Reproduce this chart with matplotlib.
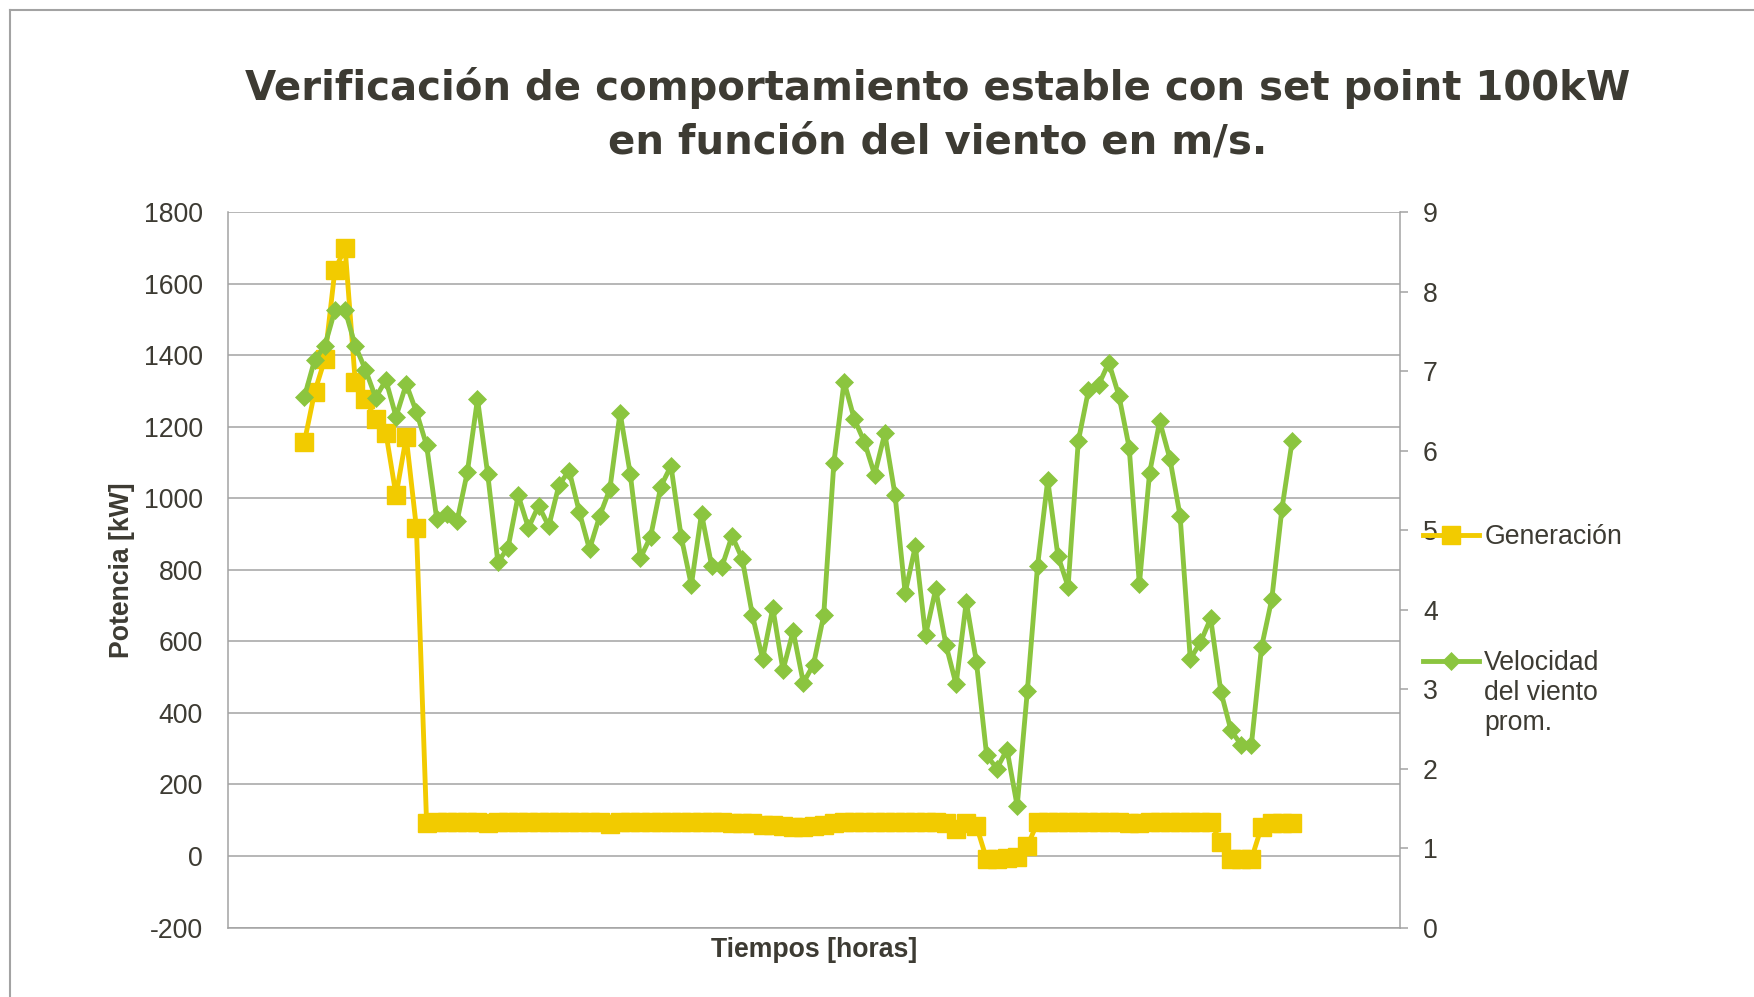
import numpy as np
import matplotlib
matplotlib.use("Agg")
import matplotlib.pyplot as plt
from matplotlib.lines import Line2D
from matplotlib.legend_handler import HandlerLine2D

plt.rcParams['font.family'] = ['Liberation Sans', 'DejaVu Sans']
plt.rcParams['axes.unicode_minus'] = False

TEXT = '#3d3b33'
GRID = '#a3a3a3'
YELLOW = '#f2cb00'
GREEN = '#8bc53f'
FS = 19.2

titulo = ["Verificación de comportamiento estable con set point 100kW",
          "en función del viento en m/s."]
nombres = ["Generación", "Velocidad\ndel viento\nprom."]
eje_y_izq = "Potencia [kW]"
eje_x = "Tiempos [horas]"

# potencia generada [kW], una muestra por categoria
generacion_kw = [1158, 1297, 1389, 1640, 1700, 1325, 1279, 1221, 1184, 1009,
                 1172, 918, 93, 94, 94, 95, 94, 94, 93, 94,
                 94, 94, 95, 94, 94, 94, 95, 95, 94, 94,
                 90, 94, 94, 95, 94, 94, 94, 95, 95, 94,
                 94, 94, 93, 93, 92, 87, 86, 83, 82, 81,
                 85, 88, 93, 94, 94, 94, 95, 94, 94, 94,
                 94, 94, 94, 93, 75, 93, 84, -9, -8, -6,
                 -3, 28, 94, 94, 94, 94, 94, 95, 94, 94,
                 94, 93, 93, 94, 94, 95, 94, 94, 94, 94,
                 39, -7, -8, -9, 82, 93, 93, 93]

# velocidad del viento promedio [m/s]
viento_ms = [6.68, 7.14, 7.32, 7.77, 7.77, 7.32, 7.02, 6.67, 6.89, 6.43,
             6.84, 6.49, 6.07, 5.14, 5.20, 5.12, 5.73, 6.65, 5.71, 4.60,
             4.78, 5.44, 5.03, 5.31, 5.05, 5.57, 5.75, 5.23, 4.76, 5.18,
             5.52, 6.48, 5.71, 4.65, 4.92, 5.55, 5.81, 4.92, 4.31, 5.21,
             4.55, 4.54, 4.93, 4.64, 3.93, 3.38, 4.02, 3.24, 3.73, 3.08,
             3.31, 3.93, 5.85, 6.87, 6.40, 6.11, 5.70, 6.22, 5.45, 4.21,
             4.80, 3.68, 4.26, 3.56, 3.06, 4.10, 3.34, 2.17, 2.00, 2.24,
             1.53, 2.98, 4.55, 5.63, 4.68, 4.29, 6.12, 6.76, 6.83, 7.11,
             6.69, 6.04, 4.32, 5.72, 6.37, 5.90, 5.18, 3.38, 3.59, 3.89,
             2.97, 2.48, 2.30, 2.30, 3.53, 4.13, 5.27, 6.12]

x = np.arange(len(generacion_kw))


class FirstLineHandler(HandlerLine2D):
    # Excel puts the key next to the first line of a wrapped label
    def __init__(self, shift, **kw):
        super().__init__(**kw)
        self.shift = shift

    def create_artists(self, legend, orig_handle, xdescent, ydescent,
                       width, height, fontsize, trans):
        arts = super().create_artists(legend, orig_handle, xdescent, ydescent,
                                      width, height, fontsize, trans)
        for a in arts:
            a.set_ydata(np.asarray(a.get_ydata(), dtype=float) + self.shift)
        return arts


fig = plt.figure(figsize=(17.54, 9.97), dpi=100)
ax = fig.add_axes([0.1300, 0.0697, 0.6682, 0.7172])

l1, = ax.plot(x, generacion_kw, color=YELLOW, lw=3.5, marker='s', ms=13,
              mec=YELLOW, mew=1)
ax2 = ax.twinx()
l2, = ax2.plot(x, viento_ms, color=GREEN, lw=3.5, marker='D', ms=9.5,
               mec=GREEN, mew=0.5)

ax.set_ylim(-200, 1800)
ax.set_yticks(range(-200, 1801, 200))
ax2.set_ylim(0, 9)
ax2.set_yticks(range(0, 10))
ax.set_xlim(-7.5, 107.6)
ax.set_xticks([])

ax.grid(axis='y', color=GRID, lw=1.1)
ax.set_axisbelow(True)
for s in ['top', 'right']:
    ax.spines[s].set_visible(False)
for s in ['top', 'left', 'bottom']:
    ax2.spines[s].set_visible(False)
for s in ['left', 'bottom']:
    ax.spines[s].set_color(GRID)
    ax.spines[s].set_linewidth(1.1)
ax2.spines['right'].set_color(GRID)
ax2.spines['right'].set_linewidth(1.1)

ax.tick_params(axis='y', length=0, pad=18, labelsize=FS, labelcolor=TEXT)
ax2.tick_params(axis='y', length=5.5, width=1.1, color=GRID, pad=11,
                labelsize=FS, labelcolor=TEXT)

ax.set_ylabel(eje_y_izq, fontsize=FS, fontweight='bold', color=TEXT)
ax.yaxis.set_label_coords(-0.079, 0.5)
ax.set_xlabel(eje_x, fontsize=FS, fontweight='bold', color=TEXT)
ax.xaxis.set_label_coords(0.5, -0.0133)

# titulo en dos lineas, ancho como el original
fig.text(0.5348, 0.8998, titulo[0], ha='center', va='baseline', fontsize=29,
         fontweight='bold', color=TEXT, family='DejaVu Sans')
fig.text(0.5348, 0.8464, titulo[1], ha='center', va='baseline', fontsize=29,
         fontweight='bold', color=TEXT, family='DejaVu Sans')

fig.legend([l1, l2], nombres, loc='upper left', bbox_to_anchor=(0.8113, 0.474),
           frameon=False, fontsize=FS, labelcolor=TEXT, handlelength=2.1,
           handletextpad=0.2, labelspacing=3.72, borderpad=0, borderaxespad=0,
           handler_map={l2: FirstLineHandler(FS * 1.2)})

# marco del grafico (solo se ven el borde superior e izquierdo)
yt = 1 - 10 / 997
xl = 10 / 1754
fig.add_artist(Line2D([xl, 1], [yt, yt], transform=fig.transFigure, color=GRID, lw=1.5))
fig.add_artist(Line2D([xl, xl], [0, yt], transform=fig.transFigure, color=GRID, lw=1.5))

fig.savefig("out.png", dpi=100)
